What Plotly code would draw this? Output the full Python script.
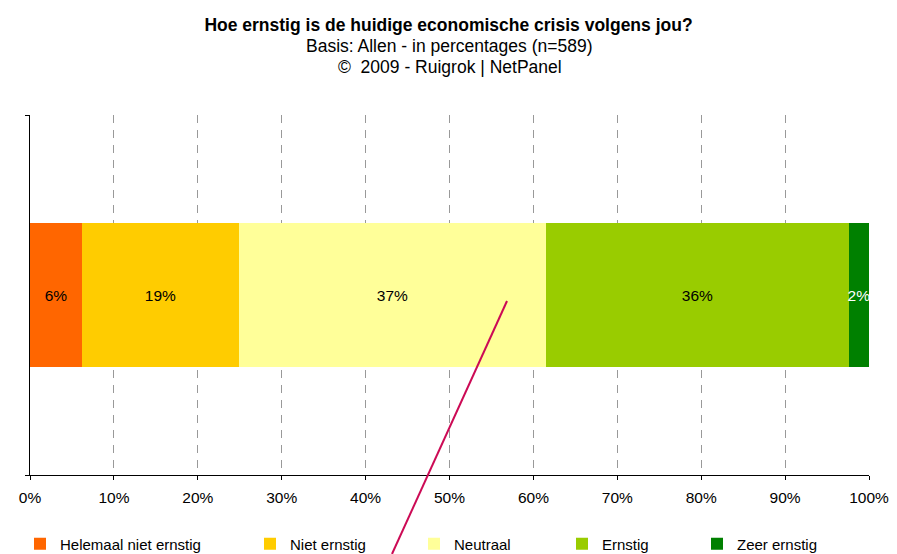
import plotly.graph_objects as go

categories = ["Helemaal niet ernstig", "Niet ernstig", "Neutraal", "Ernstig", "Zeer ernstig"]
values = [6.2, 18.7, 36.6, 36.1, 2.4]
colors = ["#FF6600", "#FFCC00", "#FFFF99", "#99CC00", "#008000"]
label_colors = ["black", "black", "black", "black", "white"]
tick_vals = [0, 10, 20, 30, 40, 50, 60, 70, 80, 90, 100]
tick_text = [f"{v}%" for v in tick_vals]

FONT = "Arial, Liberation Sans, sans-serif"
L, R, T, B = 30, 28, 115, 79
W, H = 897, 554
PW = W - L - R
PH = H - T - B

# legend swatch left edges (pixels) in reference
legend_px = [40, 270, 434, 582, 717]

fig = go.Figure()
for i, (cat, val, col, lc) in enumerate(zip(categories, values, colors, label_colors)):
    lname = "legend" if i == 0 else f"legend{i+1}"
    fig.add_trace(go.Bar(
        x=[val], y=[0], orientation="h", name=cat,
        marker=dict(color=col, line=dict(width=0)),
        texttemplate="%{x:.0f}%", textposition="inside",
        insidetextanchor="middle", textangle=0,
        constraintext="none", cliponaxis=False,
        textfont=dict(family=FONT, size=15.5, color=lc),
        legend=lname, hoverinfo="skip",
    ))

layout_legends = {}
for i, px in enumerate(legend_px):
    lname = "legend" if i == 0 else f"legend{i+1}"
    layout_legends[lname] = dict(
        x=(px - 20 - L) / PW, xref="paper", xanchor="left",
        y=-(544 - (T + PH)) / PH, yref="paper", yanchor="middle",
        orientation="h", bgcolor="rgba(0,0,0,0)",
        font=dict(family=FONT, size=15, color="black"),
        itemwidth=30, borderwidth=0,
    )

fig.update_layout(
    width=W, height=H,
    margin=dict(l=L, r=R, t=T, b=B, autoexpand=False),
    paper_bgcolor="white", plot_bgcolor="white",
    barmode="stack", bargap=0.6,
    showlegend=True,
    title=dict(text="<b>Hoe ernstig is de huidige economische crisis volgens jou?</b>",
               x=0.5, xanchor="center", y=1 - 25 / H, yanchor="middle",
               font=dict(family=FONT, size=17.5, color="black")),
    xaxis=dict(range=[0, 100], tickvals=tick_vals, ticktext=tick_text,
               showgrid=True, gridcolor="#999999", griddash="8px,7px", gridwidth=1,
               showline=True, linecolor="black", linewidth=1,
               ticks="outside", ticklen=4, tickcolor="black",
               ticklabelstandoff=4,
               tickfont=dict(family=FONT, size=15.5, color="black"),
               zeroline=False, fixedrange=True, automargin=False),
    yaxis=dict(range=[-0.5, 0.5], tickvals=[-0.5, 0.5], ticktext=["", ""],
               showgrid=False, zeroline=False,
               showline=True, linecolor="black", linewidth=1,
               ticks="outside", ticklen=4, tickcolor="black", fixedrange=True,
               automargin=False),
    annotations=[
        dict(text="Basis: Allen - in percentages (n=589)", xref="paper", yref="paper",
             x=0.5, y=(T + PH - 46) / PH, xanchor="center", yanchor="middle",
             showarrow=False, font=dict(family=FONT, size=17.5, color="black")),
        dict(text="©  2009 - Ruigrok | NetPanel", xref="paper", yref="paper",
             x=0.5, y=(T + PH - 67) / PH, xanchor="center", yanchor="middle",
             showarrow=False, font=dict(family=FONT, size=17.5, color="black")),
    ],
    shapes=[
        dict(type="line", xref="paper", yref="paper",
             x0=(507 - L) / PW, y0=(T + PH - 301) / PH,
             x1=(392 - L) / PW, y1=(T + PH - 554) / PH,
             line=dict(color="#CC0A55", width=2)),
    ],
    **layout_legends,
)

fig.write_html(
    "out.html",
    config={"displayModeBar": False},
    post_script="document.body.style.margin='0';document.body.style.overflow='hidden';",
)
